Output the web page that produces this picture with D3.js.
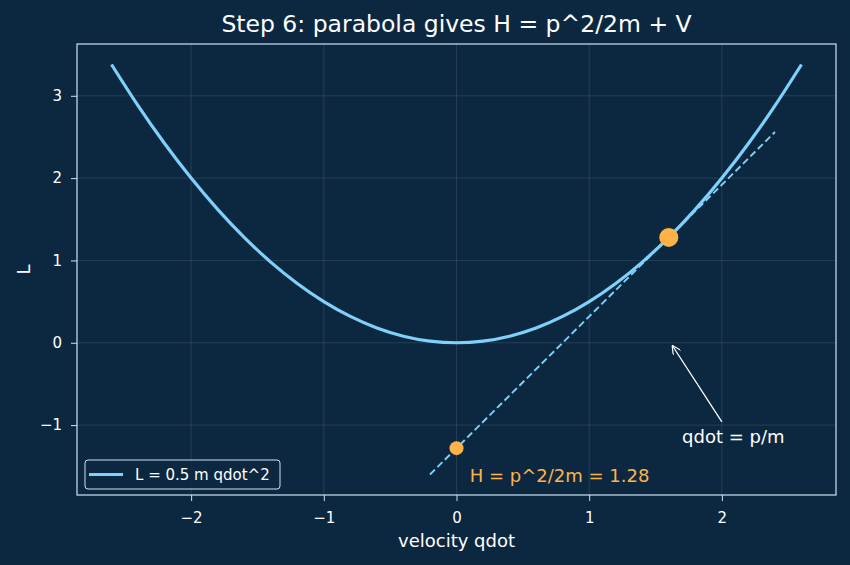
<!DOCTYPE html>
<html lang="en">
<head>
    <meta charset="UTF-8">
    <script src="https://d3js.org/d3.v7.min.js"></script>
    <title>Step 6</title>
    <style>
        body { margin: 0; background: #0c2840; }
        svg { font-family: "DejaVu Sans", sans-serif; display: block; }
    </style>
</head>
<body>
    <div id="chart"></div>
    <script>
        const width = 850;
        const height = 565;
        const margin = { top: 44, right: 14, bottom: 70, left: 77 };

        // courbe L = 0.5 m qdot^2 (m = 1)
        const qdotValues = [-2.6, -2.4, -2.2, -2.0, -1.8, -1.6, -1.4, -1.2, -1.0, -0.8, -0.6, -0.4, -0.2, 0,
                            0.2, 0.4, 0.6, 0.8, 1.0, 1.2, 1.4, 1.6, 1.8, 2.0, 2.2, 2.4, 2.6];
        const lValues = [3.38, 2.88, 2.42, 2.00, 1.62, 1.28, 0.98, 0.72, 0.50, 0.32, 0.18, 0.08, 0.02, 0,
                         0.02, 0.08, 0.18, 0.32, 0.50, 0.72, 0.98, 1.28, 1.62, 2.00, 2.42, 2.88, 3.38];

        // tangente en qdot = p/m
        const tangentQdot = [-0.2, 2.4];
        const tangentL = [-1.6, 2.56];

        // points
        const pointQdot = [1.6, 0];
        const pointL = [1.28, -1.28];

        const xTicks = [-2, -1, 0, 1, 2];
        const yTicks = [-1, 0, 1, 2, 3];

        const bg = "#0c2840";
        const curveColor = "#7fd0fa";
        const orange = "#ffb347";
        const spine = "#d0e2f2";

        const svg = d3.select("#chart")
            .append("svg")
            .attr("width", width)
            .attr("height", height);

        svg.append("rect").attr("width", width).attr("height", height).attr("fill", bg);

        const x = d3.scaleLinear()
            .domain([-2.86, 2.86])
            .range([margin.left, width - margin.right]);

        const y = d3.scaleLinear()
            .domain([-1.849, 3.629])
            .range([height - margin.bottom, margin.top]);

        // grille
        svg.append("g")
            .selectAll("line.gx")
            .data(xTicks)
            .join("line")
            .attr("x1", d => x(d)).attr("x2", d => x(d))
            .attr("y1", margin.top).attr("y2", height - margin.bottom)
            .attr("stroke", "#ffffff").attr("stroke-opacity", 0.13).attr("stroke-width", 0.8);

        svg.append("g")
            .selectAll("line.gy")
            .data(yTicks)
            .join("line")
            .attr("y1", d => y(d)).attr("y2", d => y(d))
            .attr("x1", margin.left).attr("x2", width - margin.right)
            .attr("stroke", "#ffffff").attr("stroke-opacity", 0.13).attr("stroke-width", 0.8);

        // axes
        const fmt = d => d < 0 ? "\u2212" + Math.abs(d) : String(d);

        const xAxis = svg.append("g")
            .attr("transform", `translate(0,${height - margin.bottom})`)
            .call(d3.axisBottom(x).tickValues(xTicks).tickFormat(fmt).tickSize(6).tickPadding(11));

        const yAxis = svg.append("g")
            .attr("transform", `translate(${margin.left},0)`)
            .call(d3.axisLeft(y).tickValues(yTicks).tickFormat(fmt).tickSize(6).tickPadding(9));

        [xAxis, yAxis].forEach(g => {
            g.select(".domain").remove();
            g.selectAll(".tick line").attr("stroke", spine).attr("stroke-width", 1);
            g.selectAll(".tick text").attr("fill", "#ffffff").style("font-size", "15px")
                .style("font-family", "DejaVu Sans");
        });

        // cadre
        svg.append("rect")
            .attr("x", margin.left).attr("y", margin.top)
            .attr("width", width - margin.left - margin.right)
            .attr("height", height - margin.top - margin.bottom)
            .attr("fill", "none").attr("stroke", spine).attr("stroke-width", 1.2);

        // courbe
        const curveData = qdotValues.map((q, i) => ({ q, l: lValues[i] }));
        const line = d3.line()
            .x(d => x(d.q))
            .y(d => y(d.l))
            .curve(d3.curveNatural);

        svg.append("path")
            .datum(curveData)
            .attr("fill", "none")
            .attr("stroke", curveColor)
            .attr("stroke-width", 3.2)
            .attr("d", line);

        // tangente
        const tangentData = tangentQdot.map((q, i) => ({ q, l: tangentL[i] }));
        svg.append("path")
            .datum(tangentData)
            .attr("fill", "none")
            .attr("stroke", curveColor)
            .attr("stroke-width", 1.9)
            .attr("stroke-dasharray", "7,3.5")
            .attr("d", d3.line().x(d => x(d.q)).y(d => y(d.l)));

        // points
        svg.selectAll("circle.pt")
            .data(pointQdot.map((q, i) => ({ q, l: pointL[i], r: i === 0 ? 9.5 : 7 })))
            .join("circle")
            .attr("cx", d => x(d.q))
            .attr("cy", d => y(d.l))
            .attr("r", d => d.r)
            .attr("fill", orange);

        // annotation flèche
        const defs = svg.append("defs");
        defs.append("marker")
            .attr("id", "arrow")
            .attr("viewBox", "0 0 10 10")
            .attr("refX", 10).attr("refY", 5)
            .attr("markerWidth", 9).attr("markerHeight", 9)
            .attr("markerUnits", "userSpaceOnUse")
            .attr("orient", "auto")
            .append("path")
            .attr("d", "M0,0 L10,5 L0,10")
            .attr("fill", "none")
            .attr("stroke", "#ffffff")
            .attr("stroke-width", 1.3);

        svg.append("line")
            .attr("x1", x(2.0)).attr("y1", y(-0.96))
            .attr("x2", x(1.625)).attr("y2", y(-0.03))
            .attr("stroke", "#ffffff")
            .attr("stroke-width", 1.3)
            .attr("marker-end", "url(#arrow)");

        svg.append("text")
            .attr("x", x(1.7)).attr("y", y(-1.14))
            .attr("dy", "0.35em")
            .attr("fill", "#ffffff")
            .style("font-size", "18px")
            .text("qdot = p/m");

        svg.append("text")
            .attr("x", x(0.1)).attr("y", y(-1.61))
            .attr("dy", "0.35em")
            .attr("fill", orange)
            .style("font-size", "18px")
            .text("H = p^2/2m = 1.28");

        // légende
        const legend = svg.append("g").attr("transform", `translate(${margin.left + 8},${height - margin.bottom - 35})`);
        legend.append("rect")
            .attr("width", 195).attr("height", 29).attr("rx", 3)
            .attr("fill", bg).attr("fill-opacity", 0.8)
            .attr("stroke", spine).attr("stroke-width", 1);
        legend.append("line")
            .attr("x1", 4).attr("x2", 38).attr("y1", 14.5).attr("y2", 14.5)
            .attr("stroke", curveColor).attr("stroke-width", 3.2);
        legend.append("text")
            .attr("x", 50).attr("y", 14.5).attr("dy", "0.35em")
            .attr("fill", "#ffffff").style("font-size", "15px")
            .text("L = 0.5 m qdot^2");

        // titres
        svg.append("text")
            .attr("x", (margin.left + width - margin.right) / 2)
            .attr("y", 32)
            .attr("text-anchor", "middle")
            .attr("fill", "#ffffff")
            .style("font-size", "23.5px")
            .text("Step 6: parabola gives H = p^2/2m + V");

        svg.append("text")
            .attr("x", (margin.left + width - margin.right) / 2)
            .attr("y", 547)
            .attr("text-anchor", "middle")
            .attr("fill", "#ffffff")
            .style("font-size", "18px")
            .text("velocity qdot");

        svg.append("text")
            .attr("transform", `translate(30,${(margin.top + height - margin.bottom) / 2}) rotate(-90)`)
            .attr("text-anchor", "middle")
            .attr("fill", "#ffffff")
            .style("font-size", "18px")
            .text("L");
    </script>
</body>
</html>
